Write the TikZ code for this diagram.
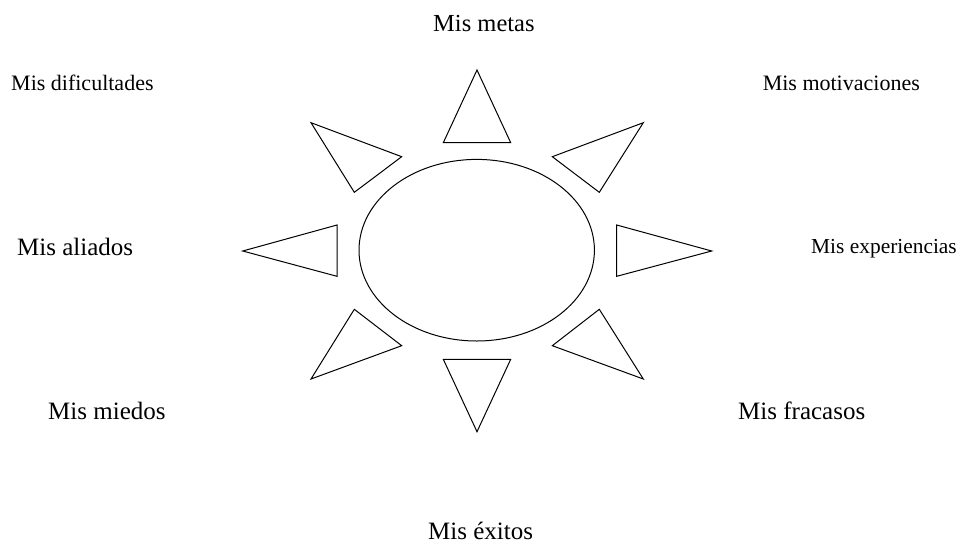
\documentclass[tikz,border=0pt]{standalone}
\usepackage{fontspec}
\setmainfont{Liberation Serif}
\begin{document}
\begin{tikzpicture}[x=1pt,y=-1pt,
  ray/.style={draw=black,line width=1pt,line join=miter},
  smalllbl/.style={inner sep=0pt,font=\fontsize{22}{26}\selectfont},
  largelbl/.style={inner sep=0pt,font=\fontsize{25}{29}\selectfont}]
\useasboundingbox (0,0) rectangle (960,546);
% sun body
\draw[ray] (476.7,250.2) ellipse [x radius=117.7pt, y radius=90.8pt];
% rays
\draw[ray] (477,70) -- (443.3,142.7) -- (510.7,142.7) -- cycle;
\draw[ray] (311,122.7) -- (401.7,156.7) -- (354.3,192.3) -- cycle;
\draw[ray] (643.3,122.7) -- (552.3,156.7) -- (599.3,192.3) -- cycle;
\draw[ray] (242.7,251) -- (337,225) -- (337,276.3) -- cycle;
\draw[ray] (711.7,251) -- (616.7,225) -- (616.7,276.3) -- cycle;
\draw[ray] (354.3,309.3) -- (401.7,345.7) -- (311,379) -- cycle;
\draw[ray] (599.3,309.3) -- (552.3,345.7) -- (643.3,379) -- cycle;
\draw[ray] (443.3,359.3) -- (510.7,359.3) -- (477,431.7) -- cycle;
% labels
\node[smalllbl,anchor=base west] (dif) at (11,90) {Mis dificultades};
\node[largelbl,anchor=base west,font=\fontsize{24.5}{29}\selectfont] (met) at (433,31) {Mis metas};
\node[smalllbl,anchor=base east] (mot) at (920,90) {Mis motivaciones};
\node[largelbl,anchor=base west] (ali) at (17,255) {Mis aliados};
\node[smalllbl,anchor=base west,font=\fontsize{21.4}{26}\selectfont] (exp) at (811,253) {Mis experiencias};
\node[largelbl,anchor=base west] (mie) at (48,419) {Mis miedos};
\node[largelbl,anchor=base west] (fra) at (738,419) {Mis fracasos};
\node[largelbl,anchor=base west] (exi) at (428,539.5) {Mis éxitos};
\end{tikzpicture}
\end{document}
